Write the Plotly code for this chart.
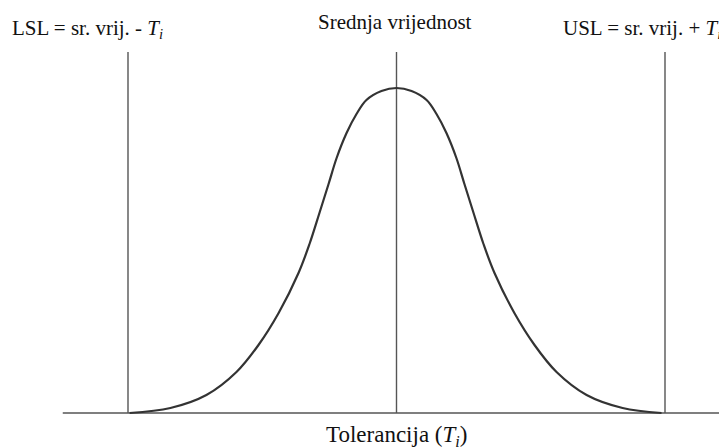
import plotly.graph_objects as go

# Data (x: tolerance units, centre = 0, LSL = -1, USL = +1; y: relative frequency, peak = 1)
curve_x = [-0.994, -0.842, -0.708, -0.596, -0.514, -0.439, -0.365, -0.324, -0.287,
           -0.253, -0.223, -0.186, -0.149, -0.112, -0.056, 0.0,
           0.056, 0.112, 0.149, 0.186, 0.223, 0.253, 0.287, 0.324, 0.365, 0.439,
           0.514, 0.596, 0.708, 0.842, 0.987]
curve_h = [0, 5, 18, 41, 68, 100, 140, 169, 200, 229, 255, 280, 299, 313, 322, 325,
           322, 313, 299, 280, 255, 229, 200, 169, 140, 100, 68, 41, 18, 5, 0]
curve_y = [h / 325 for h in curve_h]

limit_x = [-1.0, 0.0, 1.0]
limit_top = 1.111
baseline_x = [-1.243, 1.235]

labels_top = ["LSL = sr. vrij. - <i>T</i><sub><i>i</i></sub>",
              "Srednja vrijednost",
              "USL = sr. vrij. + <i>T</i><sub><i>i</i></sub>"]
x_label = "Tolerancija (<i>T</i><sub><i>i</i></sub>)"

fig = go.Figure()

# baseline
fig.add_trace(go.Scatter(x=baseline_x, y=[0, 0], mode="lines",
                         line=dict(color="#555555", width=1.6), hoverinfo="skip"))
# vertical limit lines
for lx in limit_x:
    fig.add_trace(go.Scatter(x=[lx, lx], y=[0, limit_top], mode="lines",
                             line=dict(color="#555555", width=1.4), hoverinfo="skip"))
# curve
fig.add_trace(go.Scatter(x=curve_x, y=curve_y, mode="lines",
                         line=dict(color="#333333", width=2.2, shape="spline", smoothing=1.0),
                         hoverinfo="skip"))

font = dict(family="Liberation Serif, Times New Roman, serif", color="#111111")
# page is drawn with an 8px body margin -> figure is 8px smaller, coordinates shifted
OFF = 8
W, H = 727 - OFF, 448 - OFF
ann = [
    dict(text=labels_top[0], px=87, py=28.5, size=21),
    dict(text=labels_top[1], px=395, py=22, size=21),
    dict(text=labels_top[2], px=642, py=28.5, size=21),
    dict(text=x_label, px=397, py=435.5, size=23),
]
fig.update_layout(
    annotations=[dict(text=a["text"], x=(a["px"] - OFF) / W, y=1 - (a["py"] - OFF) / H,
                      xref="paper", yref="paper",
                      xanchor="center", yanchor="middle", showarrow=False,
                      font=dict(size=a["size"], **font)) for a in ann],
    width=W, height=H,
    margin=dict(l=0, r=0, t=0, b=0),
    paper_bgcolor="white", plot_bgcolor="white",
    showlegend=False,
    xaxis=dict(range=[-1.0 - (128 - OFF) / 268.5, 1.0 + (727 - 665) / 268.5],
               visible=False, fixedrange=True),
    yaxis=dict(range=[-(448 - 413) / 325, (413 - OFF) / 325], visible=False, fixedrange=True),
)

fig.write_html("out.html")
